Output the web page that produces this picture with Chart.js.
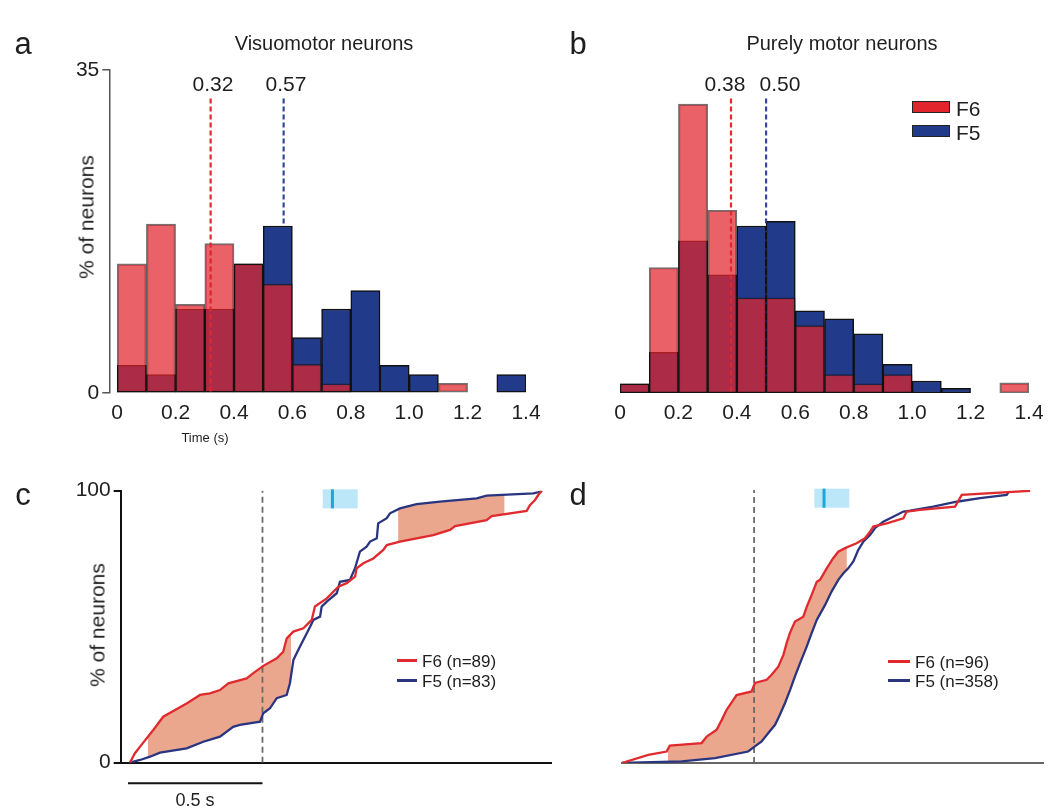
<!DOCTYPE html>
<html lang="en">
<head>
<meta charset="UTF-8">
<title>Movement-related onset of F6 and F5 neurons</title>
<style>
  body { margin: 0; width: 1050px; height: 812px; position: relative; background: #fff;
         font-family: Arial, "Liberation Sans", sans-serif; color: #1e1e1e; overflow: hidden; }
  canvas { position: absolute; }
  .t { position: absolute; white-space: nowrap; line-height: 1; transform: translate(-50%, -50%); }
  .l { position: absolute; white-space: nowrap; line-height: 1; transform: translateY(-50%); }
  .rot { transform: translate(-50%, -50%) rotate(-90deg); }
  .letter { font-size: 31px; }
  .title { font-size: 20px; }
  .val { font-size: 21px; }
  .leg { font-size: 17px; }
  .key { position: absolute; height: 3px; }
  .box { position: absolute; width: 36px; height: 10px; border: 1.5px solid #222; }
</style>
<script src="https://cdn.jsdelivr.net/npm/chart.js"></script>
</head>
<body>
  <canvas id="histA" width="560" height="450" style="left:0;top:0"></canvas>
  <canvas id="histB" width="490" height="450" style="left:560px;top:0"></canvas>
  <canvas id="cdfC" width="560" height="352" style="left:0;top:460px"></canvas>
  <canvas id="cdfD" width="490" height="352" style="left:560px;top:460px"></canvas>

  <div class="t letter" style="left:23px;top:43px">a</div>
  <div class="t letter" style="left:578px;top:43px">b</div>
  <div class="t letter" style="left:23px;top:494px">c</div>
  <div class="t letter" style="left:578px;top:494px">d</div>

  <div class="t title" style="left:324px;top:43px">Visuomotor neurons</div>
  <div class="t title" style="left:842px;top:43px">Purely motor neurons</div>

  <div class="t rot val" style="left:86px;top:217px">% of neurons</div>
  <div class="t rot val" style="left:97px;top:625px">% of neurons</div>
  <div class="t" style="left:205px;top:437px;font-size:13px">Time (s)</div>

  <div class="t val" style="left:213px;top:83px">0.32</div>
  <div class="t val" style="left:286px;top:83px">0.57</div>
  <div class="t val" style="left:725px;top:83px">0.38</div>
  <div class="t val" style="left:780px;top:83px">0.50</div>

  <div class="box" style="left:912px;top:101px;background:#e2252c"></div>
  <div class="l val" style="left:956px;top:108px">F6</div>
  <div class="box" style="left:912px;top:125px;background:#223a8a"></div>
  <div class="l val" style="left:956px;top:132px">F5</div>

  <div class="key" style="left:397px;top:659px;width:20px;background:#df2a2e"></div>
  <div class="l leg" style="left:422px;top:661px">F6 (n=89)</div>
  <div class="key" style="left:397px;top:679px;width:20px;background:#2a3580"></div>
  <div class="l leg" style="left:422px;top:681px">F5 (n=83)</div>

  <div class="key" style="left:888px;top:660px;width:22px;background:#df2a2e"></div>
  <div class="l leg" style="left:915px;top:662px">F6 (n=96)</div>
  <div class="key" style="left:888px;top:679px;width:22px;background:#2a3580"></div>
  <div class="l leg" style="left:915px;top:681px">F5 (n=358)</div>

  <div class="t" style="left:195px;top:800px;font-size:18px">0.5 s</div>

<script>
// histogram bins (s) and % of neurons per bin
const binCenters = [0.05, 0.15, 0.25, 0.35, 0.45, 0.55, 0.65, 0.75, 0.85, 0.95, 1.05, 1.15, 1.25, 1.35];
const visuoF6 = [14.0, 18.3, 9.6, 16.2, 14.0, 11.8, 3.1, 1.0, 0, 0, 0, 1.05, 0, 0];
const visuoF5 = [3.0, 2.0, 9.1, 9.1, 14.0, 18.1, 6.0, 9.1, 11.1, 3.0, 2.0, 0, 0, 2.0];
const motorF6 = [1.0, 13.6, 31.3, 19.8, 10.3, 10.3, 7.3, 2.0, 1.0, 2.0, 0, 0, 0, 1.1];
const motorF5 = [1.0, 4.4, 16.5, 12.8, 18.1, 18.6, 8.9, 8.05, 6.4, 3.1, 1.3, 0.5, 0, 0];
const visuoMedians = [0.32, 0.57];   // F6, F5
const motorMedians = [0.38, 0.50];
const histTicks = [0, 0.2, 0.4, 0.6, 0.8, 1.0, 1.2, 1.4];
const histTickLabels = ['0', '0.2', '0.4', '0.6', '0.8', '1.0', '1.2', '1.4'];

// cumulative distributions [time (s), % of neurons]
const cdfVisuoF6 = [[0.007,0],[0.026,3.5],[0.045,5.9],[0.094,12.0],[0.131,16.9],[0.218,21.8],[0.268,24.9],
  [0.305,25.5],[0.342,26.7],[0.373,29.2],[0.441,31.0],[0.466,32.9],[0.503,35.6],[0.553,38.4],[0.577,40.8],
  [0.590,45.7],[0.615,48.2],[0.652,49.4],[0.683,52.5],[0.695,57.4],[0.739,60.4],[0.782,64.7],[0.813,66.0],
  [0.844,68.4],[0.850,71.5],[0.875,73.3],[0.912,75.1],[0.949,78.2],[0.962,80.0],[1.011,81.3],[1.135,83.7],
  [1.197,85.6],[1.216,87.0],[1.333,89.2],[1.352,90.7],[1.482,92.6],[1.494,94.7],[1.513,96.6],[1.525,98.4],[1.538,100]];
const cdfVisuoF5 = [[0.007,0],[0.045,1.0],[0.082,2.2],[0.119,3.7],[0.218,5.3],[0.280,7.7],[0.342,9.6],
  [0.391,13.2],[0.416,13.9],[0.491,15.1],[0.503,18.2],[0.528,20.0],[0.553,23.7],[0.590,24.9],[0.602,29.2],
  [0.615,37.8],[0.627,40.2],[0.639,42.6],[0.658,46.3],[0.677,50.0],[0.689,52.5],[0.714,53.7],[0.720,57.4],
  [0.739,59.2],[0.776,62.3],[0.788,66.5],[0.825,67.2],[0.844,71.5],[0.862,77.6],[0.887,79.4],[0.900,81.3],
  [0.925,82.5],[0.930,88.0],[0.962,89.9],[0.974,91.7],[1.011,93.5],[1.073,95.1],[1.160,96.0],[1.296,97.2],
  [1.333,98.2],[1.507,99.0],[1.532,99.6],[1.538,100]];
const cdfMotorF6 = [[0.008,0],[0.107,3.0],[0.175,4.2],[0.187,6.4],[0.305,7.3],[0.324,9.7],[0.361,12.2],
  [0.380,15.8],[0.398,19.5],[0.423,23.1],[0.435,24.9],[0.491,26.2],[0.503,29.3],[0.547,30.5],[0.565,32.3],
  [0.590,35.3],[0.609,39.6],[0.621,43.9],[0.633,47.6],[0.652,51.8],[0.683,53.6],[0.696,57.3],[0.714,61.6],
  [0.733,66.4],[0.745,67.1],[0.770,71.3],[0.794,75.0],[0.813,77.4],[0.838,78.7],[0.881,80.5],[0.912,82.3],
  [0.931,84.7],[0.943,86.6],[0.993,87.8],[1.055,89.6],[1.067,92.1],[1.117,92.7],[1.247,93.9],[1.272,98.2],[1.526,99.7]];
const cdfMotorF5 = [[0.008,0],[0.231,0.6],[0.355,1.8],[0.478,4.2],[0.503,6.1],[0.528,7.9],[0.553,11.0],
  [0.578,14.0],[0.596,17.7],[0.615,22.0],[0.634,26.8],[0.652,31.7],[0.671,36.6],[0.696,42.7],[0.714,47.6],
  [0.733,52.4],[0.764,57.9],[0.788,62.8],[0.813,67.1],[0.832,69.5],[0.850,71.3],[0.869,73.8],[0.887,78.0],
  [0.906,81.1],[0.931,83.5],[0.949,86.0],[0.980,88.4],[1.017,90.2],[1.055,92.1],[1.080,92.4],[1.166,93.9],
  [1.253,95.7],[1.340,97.0],[1.439,98.2],[1.445,99.1]];
// windows where the difference between the two curves is shaded
const visuoBands = [[0.074, 0.606], [1.004, 1.40]];
const motorBands = [[0.18, 0.845]];
const cueWindow = [0.724, 0.854];
const cueMean = 0.76;
const cueLevels = [93.5, 100.5];

const RED = '#df2a2e', NAVY = '#2a3580';
const FONT = 'Arial, "Liberation Sans", sans-serif';

function histChart(id, f6, f5, medians, opt) {
  const pts = arr => binCenters.map((x, i) => ({ x: x, y: arr[i] > 0 ? arr[i] : null }));
  const binTop = m => f5[Math.floor(m / 0.1)];
  const medTop = 31.9;
  const datasets = [
    { type: 'line', data: [{ x: medians[0], y: medTop }, { x: medians[0], y: 0 }], borderColor: '#e3262d',
      borderWidth: 2.2, borderDash: [5, 3], pointRadius: 0, order: 0 },
    { type: 'line', data: [{ x: medians[1], y: medTop }, { x: medians[1], y: binTop(medians[1]) }], borderColor: '#34479a',
      borderWidth: 2.2, borderDash: [5, 3], pointRadius: 0, order: 0 },
    { label: 'F6', data: pts(f6), backgroundColor: 'rgba(226,37,44,0.72)', borderColor: 'rgba(20,20,20,0.6)',
      borderWidth: 1.5, borderSkipped: false, barPercentage: 1, categoryPercentage: 1, grouped: false, order: 1 },
    { label: 'F5', data: pts(f5), backgroundColor: '#223a8a', borderColor: '#111',
      borderWidth: 1.5, borderSkipped: false, barPercentage: 1, categoryPercentage: 1, grouped: false, order: 2 }
  ];
  if (opt.dotted) {
    datasets.push({ type: 'line', data: [{ x: medians[1], y: binTop(medians[1]) }, { x: medians[1], y: 0 }],
      borderColor: '#1b2358', borderWidth: 2, borderDash: [2, 7], pointRadius: 0, order: 0 });
  }
  new Chart(document.getElementById(id), {
    type: 'bar',
    data: { datasets: datasets },
    options: {
      responsive: false, animation: false, devicePixelRatio: 1,
      layout: { padding: opt.padding },
      plugins: { legend: { display: false }, tooltip: { enabled: false } },
      scales: {
        x: {
          type: 'linear', min: opt.xmin, max: 1.4, offset: false,
          grid: { display: false }, border: { display: false },
          afterBuildTicks: s => { s.ticks = histTicks.map(v => ({ value: v })); },
          afterFit: s => { s.height = 50; },
          ticks: { autoSkip: false, maxRotation: 0, padding: 0, color: '#1e1e1e',
                   font: { size: 21, family: FONT },
                   callback: (v, i) => histTickLabels[i] }
        },
        y: {
          display: opt.showY, min: 0, max: 35,
          afterBuildTicks: s => { s.ticks = [{ value: 0 }, { value: 35 }]; },
          afterFit: s => { if (opt.showY) s.width = 109.3; },
          grid: { drawOnChartArea: false, tickLength: 7, color: '#555', lineWidth: 1.5 },
          border: { color: '#555', width: 1.5 },
          ticks: { padding: 3, color: '#1e1e1e', font: { size: 21, family: FONT } }
        }
      }
    }
  });
}

function clip(curve, a, b) {
  const at = t => {
    for (let i = 0; i < curve.length - 1; i++) {
      const p = curve[i], q = curve[i + 1];
      if (t >= p[0] && t <= q[0]) return q[0] === p[0] ? q[1] : p[1] + (q[1] - p[1]) * (t - p[0]) / (q[0] - p[0]);
    }
    return curve[curve.length - 1][1];
  };
  const out = [{ x: a, y: at(a) }];
  curve.forEach(p => { if (p[0] > a && p[0] < b) out.push({ x: p[0], y: p[1] }); });
  out.push({ x: b, y: at(b) });
  return out;
}

const cuePlugin = {
  id: 'cue',
  beforeDatasetsDraw(chart) {
    const x = chart.scales.x, y = chart.scales.y, ctx = chart.ctx;
    const x0 = x.getPixelForValue(cueWindow[0]), x1 = x.getPixelForValue(cueWindow[1]);
    const y0 = y.getPixelForValue(cueLevels[1]), y1 = y.getPixelForValue(cueLevels[0]);
    ctx.save();
    ctx.fillStyle = 'rgba(150,218,246,0.65)';
    ctx.fillRect(x0, y0, x1 - x0, y1 - y0);
    ctx.strokeStyle = '#1ea6d6';
    ctx.lineWidth = 3;
    ctx.beginPath();
    ctx.moveTo(x.getPixelForValue(cueMean), y0);
    ctx.lineTo(x.getPixelForValue(cueMean), y1);
    ctx.stroke();
    ctx.restore();
  }
};

const scaleBarPlugin = {
  id: 'scalebar',
  afterDraw(chart) {
    const x = chart.scales.x, ctx = chart.ctx;
    const yb = chart.chartArea.bottom + 20.6;
    ctx.save();
    ctx.strokeStyle = '#111';
    ctx.lineWidth = 2;
    ctx.beginPath();
    ctx.moveTo(x.getPixelForValue(0), yb);
    ctx.lineTo(x.getPixelForValue(0.5), yb);
    ctx.stroke();
    ctx.restore();
  }
};

function cdfChart(id, f6, f5, bands, opt) {
  const line = (c, col, ord) => ({ data: c.map(p => ({ x: p[0], y: p[1] })), borderColor: col, borderWidth: 2.3,
    pointRadius: 0, tension: 0, fill: false, order: ord });
  const datasets = [];
  bands.forEach(b => {
    datasets.push({ data: clip(f6, b[0], b[1]), borderWidth: 0, pointRadius: 0, tension: 0,
      backgroundColor: 'rgba(232,152,122,0.85)', fill: '+1', order: 5 });
    datasets.push({ data: clip(f5, b[0], b[1]), borderWidth: 0, pointRadius: 0, tension: 0, fill: false, order: 5 });
  });
  datasets.push({ data: [{ x: 0.5, y: 0 }, { x: 0.5, y: 100 }], borderColor: '#6a6a6a', borderWidth: 1.8,
    borderDash: [6, 4], pointRadius: 0, fill: false, order: 3 });
  datasets.push(line(f5, NAVY, 2));
  datasets.push(line(f6, RED, 1));
  new Chart(document.getElementById(id), {
    type: 'line',
    data: { datasets: datasets },
    options: {
      responsive: false, animation: false, devicePixelRatio: 1,
      layout: { padding: opt.padding },
      plugins: { legend: { display: false }, tooltip: { enabled: false } },
      scales: {
        x: {
          type: 'linear', min: opt.xmin, max: 1.575,
          grid: { display: false }, ticks: { display: false },
          border: { color: opt.axisColor, width: 2 },
          afterFit: s => { s.height = 40; }
        },
        y: {
          display: opt.showY, min: 0, max: 100,
          afterBuildTicks: s => { s.ticks = [{ value: 0 }, { value: 100 }]; },
          afterFit: s => { if (opt.showY) s.width = 120.7; },
          grid: { drawOnChartArea: false, tickLength: 7, color: '#111', lineWidth: 2 },
          border: { color: '#111', width: 2 },
          ticks: { padding: 3, color: '#1e1e1e', font: { size: 21, family: FONT } }
        }
      }
    },
    plugins: opt.scaleBar ? [cuePlugin, scaleBarPlugin] : [cuePlugin]
  });
}

histChart('histA', visuoF6, visuoF5, visuoMedians,
  { showY: true, xmin: -0.027, padding: { top: 70, right: 34, bottom: 7, left: 0 }, dotted: false });
histChart('histB', motorF6, motorF5, motorMedians,
  { showY: false, xmin: 0, padding: { top: 70, right: 21, bottom: 7, left: 60 }, dotted: true });
cdfChart('cdfC', cdfVisuoF6, cdfVisuoF5, visuoBands,
  { showY: true, xmin: -0.027, axisColor: '#111', scaleBar: true, padding: { top: 30.7, right: 8.3, bottom: 9.3, left: 0 } });
cdfChart('cdfD', cdfMotorF6, cdfMotorF5, motorBands,
  { showY: false, xmin: 0.008, axisColor: '#666', scaleBar: false, padding: { top: 30, right: 6.7, bottom: 9, left: 61.7 } });
</script>
</body>
</html>
